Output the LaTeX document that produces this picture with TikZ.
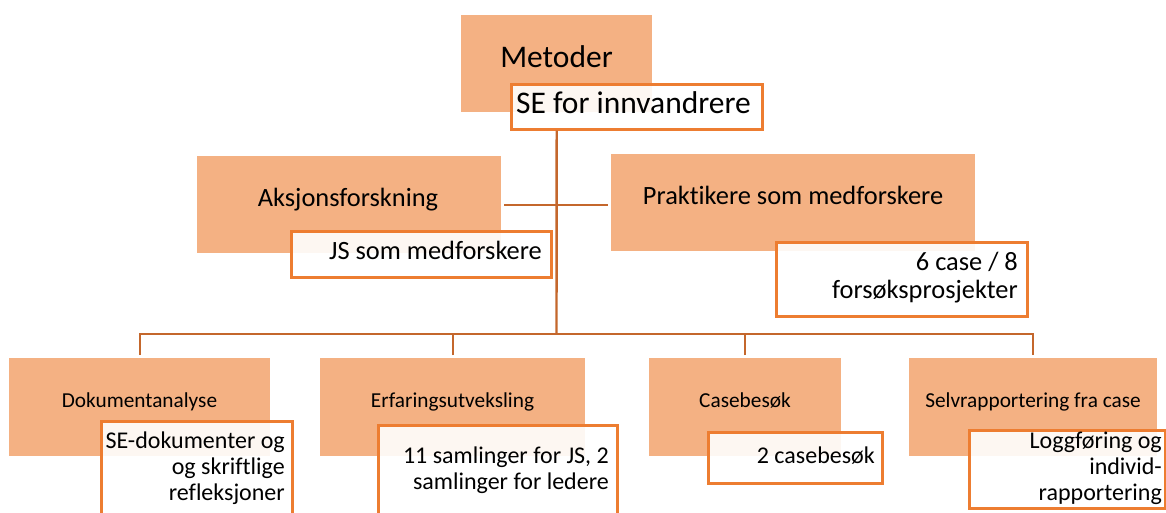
\documentclass[tikz,border=0pt]{standalone}
\usepackage{fontspec}
\setmainfont{Carlito}[Ligatures={NoCommon}]
\definecolor{hdrfill}{HTML}{F4B183}
\definecolor{subdraw}{HTML}{ED7D31}
\definecolor{connclr}{HTML}{C4672C}
\begin{document}
\begin{tikzpicture}[x=1pt,y=-1pt,
  hdrbox/.style={rectangle, fill=hdrfill, draw=none, inner sep=0pt, anchor=north west},
  subbox/.style={rectangle, draw=subdraw, line width=3pt, fill=white, fill opacity=0.9, inner sep=0pt, anchor=north west},
  connline/.style={draw=connclr, line width=2.4pt, line join=miter},
  bigtxt/.style={inner sep=0pt, anchor=base, font=\fontsize{31.5}{38}\selectfont},
  midtxt/.style={inner sep=0pt, anchor=base, font=\fontsize{26.4}{28}\selectfont},
  midsub/.style={inner sep=0pt, anchor=base east, align=right, font=\fontsize{26.4}{28}\selectfont},
  lowtxt/.style={inner sep=0pt, anchor=base, font=\fontsize{21.3}{26}\selectfont},
  lowsub/.style={inner sep=0pt, anchor=base east, align=right, font=\fontsize{24}{26}\selectfont}]
\useasboundingbox (0,0) rectangle (1166,512);
\clip (0,0) rectangle (1166,512);
\fill[white] (0,0) rectangle (1166,512);

% header boxes
\node[hdrbox, minimum width=191pt, minimum height=97pt] (met) at (461,15) {};
\node[hdrbox, minimum width=304pt, minimum height=97pt] (aks) at (197,156) {};
\node[hdrbox, minimum width=364pt, minimum height=97pt] (prak) at (611,154) {};
\node[hdrbox, minimum width=261pt, minimum height=98pt] (dok) at (9,358) {};
\node[hdrbox, minimum width=265pt, minimum height=98pt] (erf) at (320,358) {};
\node[hdrbox, minimum width=192pt, minimum height=98pt] (cas) at (649,358) {};
\node[hdrbox, minimum width=248pt, minimum height=98pt] (selv) at (909,358) {};

\node[bigtxt] (metT) at (556.5,67) {Metoder};
\node[midtxt] (aksT) at (348,206) {Aksjonsforskning};
\node[midtxt] (prakT) at (793,204) {Praktikere som medforskere};
\node[lowtxt] (dokT) at (139.5,407) {Dokumentanalyse};
\node[lowtxt] (erfT) at (452.5,407) {Erfaringsutveksling};
\node[lowtxt] (casT) at (745,407) {Casebesøk};
\node[lowtxt] (selvT) at (1033,407) {Selvrapportering fra case};

% sub boxes
\node[subbox, minimum width=251pt, minimum height=45pt] (se) at (509.5,82.5) {};
\node[subbox, minimum width=260pt, minimum height=46pt] (js) at (289.5,229.5) {};
\node[subbox, minimum width=251pt, minimum height=74pt] (six) at (774.5,240.5) {};
\node[subbox, minimum width=191pt, minimum height=110pt] (sedok) at (99.5,419.5) {};
\node[subbox, minimum width=239pt, minimum height=110pt] (saml) at (376.5,423.5) {};
\node[subbox, minimum width=174pt, minimum height=51pt] (cb) at (706.5,430.5) {};
\node[subbox, minimum width=196pt, minimum height=78pt] (logg) at (967.5,428.5) {};

% multi-line nodes: base anchor = baseline of last line
\node[bigtxt] (seT) at (633.5,113) {SE for innvandrere};
\node[midsub] (jsT) at (542,259) {JS som medforskere};
\node[midsub] (sixT) at (1018,298) {6 case / 8\\forsøksprosjekter};
\node[lowsub] (sedokT) at (285,500) {SE-dokumenter og\\og skriftlige\\refleksjoner};
\node[lowsub] (samlT) at (609,489) {11 samlinger for JS, 2\\samlinger for ledere};
\node[lowsub] (cbT) at (875,463) {2 casebesøk};
\node[lowsub] (loggT) at (1162,500) {Loggføring og\\individ-\\rapportering};

% connectors
\coordinate (bus) at (556.5,334);
\draw[connline] (se.south -| met.south) -- (bus);
\draw[connline] ([xshift=3pt]aks.east) -- ([xshift=-3pt]aks.east -| prak.west);
\draw[connline] ([yshift=3pt]dok.north) -- (dok.north |- bus) -- (selv.north |- bus) -- ([yshift=3pt]selv.north);
\draw[connline] ([yshift=3pt]erf.north) -- (erf.north |- bus);
\draw[connline] ([yshift=3pt]cas.north) -- (cas.north |- bus);
\end{tikzpicture}
\end{document}
